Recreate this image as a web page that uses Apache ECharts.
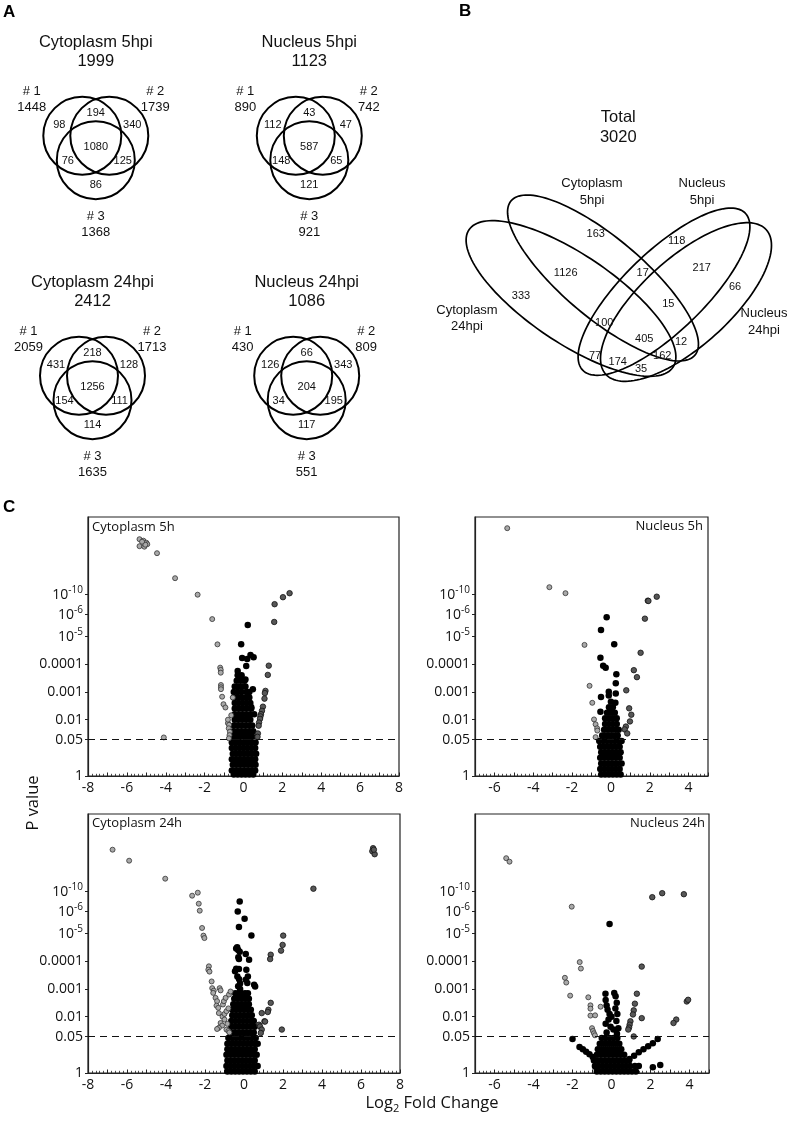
<!DOCTYPE html>
<html><head><meta charset="utf-8">
<script src="https://cdn.jsdelivr.net/npm/echarts@6/dist/echarts.min.js"></script>
<style>html,body{margin:0;padding:0;background:#fff}#c{width:791px;height:1126px}</style>
</head><body><div id="c"></div>
<script>
// ================= DATA =================
// Panel A: three-replicate Venn diagrams
const vennTitles = ['Cytoplasm 5hpi', 'Nucleus 5hpi', 'Cytoplasm 24hpi', 'Nucleus 24hpi'];
const vennTotals = [1999, 1123, 2412, 1086];
const vennSetNames = ['# 1', '# 2', '# 3'];
const vennSetSizes = [[1448, 1739, 1368], [890, 742, 921], [2059, 1713, 1635], [430, 809, 551]];
// regions: #1 only, #1&#2, #2 only, all, #1&#3, #2&#3, #3 only
const vennRegions = [
  [98, 194, 340, 1080, 76, 125, 86],
  [112, 43, 47, 587, 148, 65, 121],
  [431, 218, 128, 1256, 154, 111, 114],
  [126, 66, 343, 204, 34, 195, 117]
];

// Panel B: four-set Venn (A=Cytoplasm 24hpi, B=Cytoplasm 5hpi, C=Nucleus 5hpi, D=Nucleus 24hpi)
const quadTitle = 'Total';
const quadTotal = 3020;
const quadSetNames = [['Cytoplasm', '24hpi'], ['Cytoplasm', '5hpi'], ['Nucleus', '5hpi'], ['Nucleus', '24hpi']];
const quadRegionKeys = ['A', 'B', 'C', 'D', 'AB', 'BC', 'CD', 'ABC', 'BCD', 'ABCD', 'AC', 'BD', 'ACD', 'ABD', 'AD'];
const quadRegions = [333, 163, 118, 66, 1126, 17, 217, 100, 15, 405, 77, 12, 174, 162, 35];

// Panel C: volcano plots  [log2 fold change, -log10 P]
const volcanoTitles = ['Cytoplasm 5h', 'Nucleus 5h', 'Cytoplasm 24h', 'Nucleus 24h'];
const pTickLabels = ['1', '0.05', '0.01', '0.001', '0.0001', '10^-5', '10^-6', '10^-10'];
const pTickNegLog10 = [0, 1.301, 2, 3, 4, 5, 6, 10];

const cyto5Light = [[-5.35,21.1],[-5.15,20.8],[-5.0,20.4],[-5.35,19.7],[-5.1,19.6],[-4.95,20.1],[-5.05,20.0],[-5.22,20.6],[-4.45,18.3],[-3.52,13.3],[-2.36,10.0],[-1.61,5.8],[-1.34,4.72],[-1.2,3.87],[-1.17,3.79],[-1.17,3.69],[-1.16,3.25],[-1.16,3.17],[-1.16,3.1],[-1.1,2.83],[-1.03,2.56],[-0.93,2.44],[-0.63,2.16],[-0.55,2.8],[-0.8,1.88],[-0.74,1.82],[-0.76,1.7],[-0.7,1.58],[-0.72,1.46],[-0.8,2.0],[-0.75,1.35],[-4.1,1.38]];
const cyto5Dark = [[2.37,10.3],[2.03,9.5],[1.6,8.1],[1.58,5.67],[1.3,3.94],[1.25,3.61],[1.13,3.04],[1.1,2.96],[1.08,2.76],[1.0,2.47],[0.95,2.32],[0.9,2.2],[0.87,2.12],[0.85,2.03],[0.8,1.9],[0.78,1.79],[0.74,1.52],[0.72,1.4]];
const cyto5Black = [[0.22,5.53],[-0.12,4.72],[-0.07,4.22],[0.19,4.18],[0.36,4.33],[0.52,4.25],[0.14,3.93],[-0.12,3.57],[0.48,3.1],[0.4,2.45],[-0.3,3.75],[0.1,3.45]];
// rows: [-log10 P, fold changes...]
const cyto5CoreRows = [
  [0.05,-0.5,-0.3,-0.1,0.1,0.3,0.5],
  [0.2,-0.6,-0.4,-0.2,0.0,0.2,0.4,0.6],
  [0.4,-0.55,-0.35,-0.15,0.05,0.25,0.45,0.62],
  [0.6,-0.6,-0.4,-0.2,0.0,0.2,0.4,0.6],
  [0.8,-0.55,-0.35,-0.15,0.05,0.25,0.45,0.65],
  [1.0,-0.6,-0.4,-0.2,0.0,0.2,0.4,0.6],
  [1.2,-0.6,-0.4,-0.2,0.0,0.2,0.4,0.62],
  [1.4,-0.55,-0.35,-0.15,0.05,0.25,0.45],
  [1.6,-0.5,-0.3,-0.1,0.1,0.3,0.5],
  [1.8,-0.5,-0.3,-0.1,0.1,0.3,0.45],
  [2.0,-0.45,-0.25,-0.05,0.15,0.35],
  [2.2,-0.45,-0.25,-0.05,0.15,0.35,0.55],
  [2.4,-0.45,-0.25,-0.05,0.15,0.4],
  [2.6,-0.45,-0.25,-0.05,0.15,0.35],
  [2.8,-0.5,-0.3,-0.1,0.1,0.3],
  [3.0,-0.5,-0.3,-0.1,0.15,0.3],
  [3.2,-0.45,-0.25,-0.05,0.1],
  [3.4,-0.35,-0.15,0.05],
  [3.6,-0.3,-0.1]
];

const nuc5Light = [[-5.34,23.3],[-3.17,11.5],[-2.34,10.3],[-1.36,4.7],[-1.1,3.22],[-0.96,2.61],[-0.87,2.01],[-0.79,1.84],[-0.71,1.7],[-0.7,1.62],[-0.79,1.39]];
const nuc5Dark = [[2.36,9.6],[1.9,8.8],[1.93,8.75],[1.75,5.82],[1.53,4.41],[1.18,3.78],[1.34,3.53],[0.79,3.06],[0.94,2.41],[1.05,2.18],[0.98,1.94],[0.77,1.76],[0.71,1.66],[0.84,1.52]];
const nuc5Black = [[-0.22,5.88],[-0.51,5.3],[0.17,4.72],[-0.54,4.23],[-0.4,3.94],[-0.27,3.87],[0.28,3.63],[0.25,3.31],[-0.51,2.82],[-0.11,2.87],[0.25,2.95],[-0.11,3.01],[0.23,2.61],[-0.54,2.29]];
const nuc5CoreRows = [
  [0.05,-0.5,-0.3,-0.1,0.1,0.3,0.5],
  [0.25,-0.55,-0.35,-0.15,0.05,0.25,0.45],
  [0.45,-0.5,-0.3,-0.1,0.1,0.3,0.55],
  [0.65,-0.55,-0.35,-0.15,0.05,0.25,0.45],
  [0.85,-0.5,-0.3,-0.1,0.1,0.3,0.5],
  [1.05,-0.55,-0.35,-0.15,0.05,0.25,0.45],
  [1.25,-0.6,-0.4,-0.2,0.0,0.2,0.4,0.55],
  [1.45,-0.45,-0.25,-0.05,0.15,0.35],
  [1.65,-0.35,-0.15,0.05,0.25,0.4],
  [1.85,-0.3,-0.1,0.1,0.3],
  [2.05,-0.3,-0.1,0.1,0.3],
  [2.25,-0.2,0.0,0.2],
  [2.45,-0.1,0.1],
  [2.65,0.0]
];

const cyto24Light = [[-6.74,18.4],[-5.89,16.2],[-4.04,12.6],[-2.66,9.2],[-2.37,9.8],[-2.32,7.6],[-2.27,6.2],[-2.15,5.26],[-2.08,4.93],[-2.03,4.84],[-1.8,3.81],[-1.83,3.69],[-1.77,3.62],[-1.66,3.27],[-1.63,3.03],[-1.55,2.94],[-1.58,2.86],[-1.25,3.03],[-1.2,2.95],[-1.46,2.68],[-1.38,2.56],[-1.41,2.4],[-1.32,2.32],[-1.29,2.13],[-1.08,2.44],[-1.03,2.56],[-0.94,2.68],[-0.77,2.8],[-0.69,2.91],[-1.1,2.0],[-1.0,2.1],[-0.9,2.2],[-0.8,2.3],[-1.2,1.78],[-1.12,1.69],[-1.29,1.61],[-1.38,1.57],[-0.9,1.55],[-0.8,1.5],[-0.75,1.45],[-1.0,1.9],[-0.85,1.75]];
const cyto24Dark = [[6.62,18.7],[6.58,18.1],[6.7,17.5],[6.66,18.4],[3.56,10.6],[2.01,4.93],[1.98,4.59],[1.9,4.38],[1.37,4.23],[1.34,4.07],[1.37,2.5],[1.25,2.25],[1.22,2.17],[0.91,2.13],[1.05,1.84],[1.94,1.55],[0.77,1.72],[0.82,1.66],[0.91,1.55],[0.86,1.43],[1.08,1.83]];
const cyto24Black = [[-0.22,8.06],[-0.32,6.06],[0.03,5.68],[-0.26,5.31],[0.38,4.93],[-0.4,4.46],[-0.3,4.4],[-0.22,4.34],[-0.35,4.5],[0.09,4.26],[0.26,4.05],[-0.26,4.07],[-0.29,4.14],[-0.4,3.72],[-0.26,3.71],[-0.46,3.63],[0.12,3.69],[0.2,3.45],[0.09,3.33],[0.17,3.21],[0.52,3.15],[0.57,3.09],[-0.34,3.45],[-0.25,3.35],[-0.2,3.2],[-0.3,3.1],[-0.2,3.0]];
const cyto24CoreRows = [
  [0.05,-0.85,-0.65,-0.45,-0.25,-0.05,0.15,0.35,0.55],
  [0.25,-0.9,-0.7,-0.5,-0.3,-0.1,0.1,0.3,0.5,0.7],
  [0.45,-0.85,-0.65,-0.45,-0.25,-0.05,0.15,0.35,0.55],
  [0.65,-0.9,-0.7,-0.5,-0.3,-0.1,0.1,0.3,0.5,0.65],
  [0.85,-0.85,-0.65,-0.45,-0.25,-0.05,0.15,0.35,0.55],
  [1.05,-0.85,-0.65,-0.45,-0.25,-0.05,0.15,0.35,0.55,0.7],
  [1.25,-0.8,-0.6,-0.4,-0.2,0.0,0.2,0.4,0.6],
  [1.45,-0.7,-0.5,-0.3,-0.1,0.1,0.3,0.5],
  [1.65,-0.65,-0.45,-0.25,-0.05,0.15,0.35,0.55],
  [1.85,-0.65,-0.45,-0.25,-0.05,0.15,0.35,0.5],
  [2.05,-0.6,-0.4,-0.2,0.0,0.2,0.4],
  [2.25,-0.6,-0.4,-0.2,0.0,0.2,0.35],
  [2.45,-0.55,-0.35,-0.15,0.05,0.25],
  [2.65,-0.5,-0.3,-0.1,0.1,0.25],
  [2.85,-0.45,-0.3,-0.15,0.05,0.2]
];

const nuc24Light = [[-5.4,16.7],[-5.23,16.0],[-2.04,7.0],[-1.63,3.96],[-1.57,3.73],[-2.39,3.4],[-2.32,3.23],[-2.12,2.76],[-1.19,2.7],[-1.08,2.41],[-1.08,2.29],[-1.08,2.04],[-0.84,2.05],[-0.56,2.36],[-1.0,1.6],[-0.95,1.5],[-0.9,1.42],[-0.85,1.35]];
const nuc24Dark = [[2.09,8.9],[2.6,9.7],[3.71,9.5],[1.55,3.8],[1.3,2.83],[1.2,2.47],[1.14,2.23],[1.1,2.08],[1.55,1.95],[0.97,1.84],[0.93,1.72],[0.9,1.62],[0.86,1.55],[3.86,2.55],[3.93,2.61],[3.32,1.9],[3.18,1.78],[1.14,1.31]];
const nuc24Black = [[-0.1,5.44],[-0.31,2.83],[0.14,2.86],[0.21,2.74],[0.27,2.5],[-0.3,2.6],[-0.25,2.4],[-0.2,2.25],[-0.1,2.1],[0.0,2.0],[-0.15,1.9],[-0.3,1.75],[-0.05,1.65],[0.1,1.55],[-0.25,1.45],[0.2,2.3],[0.3,2.1],[0.25,1.85],[0.35,1.6],[0.28,1.4],[-2.0,1.22],[-1.64,0.93],[-1.47,0.85],[-1.3,0.76],[-1.13,0.67],[-0.96,0.57],[2.37,1.22],[2.12,1.07],[1.88,0.96],[1.64,0.85],[1.4,0.74],[1.16,0.62],[0.92,0.5],[2.12,0.21],[2.5,0.29],[-0.82,0.22]];
const nuc24CoreRows = [
  [0.05,-0.75,-0.55,-0.35,-0.15,0.05,0.25,0.45,0.65,0.85,1.05,1.25],
  [0.25,-0.85,-0.65,-0.45,-0.25,-0.05,0.15,0.35,0.55,0.75,0.95,1.2,1.4],
  [0.45,-0.9,-0.7,-0.5,-0.3,-0.1,0.1,0.3,0.5,0.7,0.9],
  [0.65,-0.75,-0.55,-0.35,-0.15,0.05,0.25,0.45,0.65],
  [0.85,-0.7,-0.5,-0.3,-0.1,0.1,0.3,0.5],
  [1.05,-0.6,-0.4,-0.2,0.0,0.2,0.4],
  [1.25,-0.5,-0.3,-0.1,0.1,0.3]
];

// ================= LAYOUT / STYLE =================
const FONT_A = '"Liberation Sans", Arial, sans-serif';
const FONT_C = '"Open Sans", sans-serif';
const VENN_ORIGIN = [[95.8, 96.7], [309.3, 96.7], [92.5, 336.7], [306.7, 336.7]];
const VENN_CIRCLES = [[-13.5, 39], [13.5, 39], [0, 63.5]];
const VENN_R = 39;
const VENN_REGION_POS = [[-36.5, 28.5], [0, 16], [36.5, 28.5], [0, 50.5], [-28, 64], [27, 64], [0, 88.5]];
const VENN_SET_POS = [[-64, -5], [59.5, -5], [0, 119.5]];
const VENN_TITLE_Y = -54.5, VENN_TOTAL_Y = -35.5;

const QUAD_ELLIPSES = [[571, 298.5, 123, 44, 34], [603, 278, 120, 40, 40], [664, 291.7, 113, 40, -44], [686, 302, 108, 44, -42]];
const QUAD_REGION_POS = [[521,296],[595.7,234],[676.7,241.3],[735,286.7],[565.7,273.3],[642.7,272.7],[701.7,268.3],[604.3,322.7],[668.3,304.3],[644.3,339],[595,356],[681,342.3],[617.7,362.3],[662.3,356],[641,369.3]];
const QUAD_SET_POS = [[467, 310], [592, 183.5], [702, 183.5], [764, 313.5]];
const QUAD_TITLE_POS = [618.3, 117];

const VOLCANO_GRIDS = [
  {left: 88, top: 517, width: 311, height: 259},
  {left: 475, top: 517, width: 233, height: 259},
  {left: 88, top: 814, width: 312, height: 259},
  {left: 475, top: 814, width: 234, height: 259}
];
const VOLCANO_X = [[-8, 8], [-7, 5], [-8, 8], [-7, 5]];
// warped P-value axis of the source figure: pixel height of each tick above the x axis
const P_TICK_POS = [0, 36.3, 56.3, 84, 112, 139.3, 161.3, 181.3];
const P_TOP_SLOPE = 5;
const Y_MAX = 259;

function toAxis(v) {
  for (let i = 1; i < pTickNegLog10.length; i++) {
    if (v <= pTickNegLog10[i]) {
      const t = (v - pTickNegLog10[i - 1]) / (pTickNegLog10[i] - pTickNegLog10[i - 1]);
      return P_TICK_POS[i - 1] + t * (P_TICK_POS[i] - P_TICK_POS[i - 1]);
    }
  }
  return P_TICK_POS[P_TICK_POS.length - 1] + (v - pTickNegLog10[pTickNegLog10.length - 1]) * P_TOP_SLOPE;
}
function expandRows(rows) {
  const out = [];
  rows.forEach(r => r.slice(1).forEach(fc => out.push([fc, r[0]])));
  return out;
}

const grids = [], xAxes = [], yAxes = [], series = [];

// ---------- Panel A ----------
vennTitles.forEach((title, k) => {
  const o = VENN_ORIGIN[k];
  const gi = grids.length;
  grids.push({left: o[0] - 80, top: o[1] - 62, width: 160, height: 210, outerBoundsMode: 'none'});
  xAxes.push({type: 'value', gridIndex: gi, min: -80, max: 80, show: false});
  yAxes.push({type: 'value', gridIndex: gi, min: -62, max: 148, inverse: true, show: false});
  series.push({
    type: 'custom', xAxisIndex: gi, yAxisIndex: gi, silent: true,
    data: VENN_CIRCLES.map(c => [c[0], c[1]]),
    renderItem: (p, api) => {
      const c = api.coord([api.value(0), api.value(1)]);
      const r = api.size([VENN_R, 0])[0];
      return {type: 'circle', shape: {cx: c[0], cy: c[1], r: r}, style: {fill: 'none', stroke: '#000', lineWidth: 2}};
    }
  });
  const items = [];
  items.push({x: 0, y: VENN_TITLE_Y, t: title, s: 16.5});
  items.push({x: 0, y: VENN_TOTAL_Y, t: String(vennTotals[k]), s: 16.5});
  vennSetNames.forEach((n, j) => {
    items.push({x: VENN_SET_POS[j][0], y: VENN_SET_POS[j][1], t: n, s: 13});
    items.push({x: VENN_SET_POS[j][0], y: VENN_SET_POS[j][1] + 16, t: String(vennSetSizes[k][j]), s: 13});
  });
  vennRegions[k].forEach((v, j) => items.push({x: VENN_REGION_POS[j][0], y: VENN_REGION_POS[j][1], t: String(v), s: 11}));
  series.push({
    type: 'custom', xAxisIndex: gi, yAxisIndex: gi, silent: true,
    data: items.map(it => [it.x, it.y]),
    renderItem: (p, api) => {
      const it = items[p.dataIndex];
      const c = api.coord([api.value(0), api.value(1)]);
      return {type: 'text', x: c[0], y: c[1], style: {text: it.t, fill: '#111', font: it.s + 'px ' + FONT_A, align: 'center', verticalAlign: 'middle'}};
    }
  });
});

// ---------- Panel B ----------
(function () {
  const gi = grids.length;
  grids.push({left: 400, top: 0, width: 391, height: 400, outerBoundsMode: 'none'});
  xAxes.push({type: 'value', gridIndex: gi, min: 400, max: 791, show: false});
  yAxes.push({type: 'value', gridIndex: gi, min: 0, max: 400, inverse: true, show: false});
  series.push({
    type: 'custom', xAxisIndex: gi, yAxisIndex: gi, silent: true,
    data: QUAD_ELLIPSES.map(e => [e[0], e[1]]),
    renderItem: (p, api) => {
      const e = QUAD_ELLIPSES[p.dataIndex];
      const th = e[4] * Math.PI / 180, pts = [];
      for (let i = 0; i < 144; i++) {
        const t = i / 144 * 2 * Math.PI;
        const x = e[0] + e[2] * Math.cos(t) * Math.cos(th) - e[3] * Math.sin(t) * Math.sin(th);
        const y = e[1] + e[2] * Math.cos(t) * Math.sin(th) + e[3] * Math.sin(t) * Math.cos(th);
        pts.push(api.coord([x, y]));
      }
      return {type: 'polygon', shape: {points: pts}, style: {fill: 'none', stroke: '#000', lineWidth: 1.7}};
    }
  });
  const items = [];
  items.push({x: QUAD_TITLE_POS[0], y: QUAD_TITLE_POS[1], t: quadTitle, s: 16.5});
  items.push({x: QUAD_TITLE_POS[0], y: QUAD_TITLE_POS[1] + 20, t: String(quadTotal), s: 16.5});
  quadSetNames.forEach((n, j) => {
    items.push({x: QUAD_SET_POS[j][0], y: QUAD_SET_POS[j][1], t: n[0], s: 13});
    items.push({x: QUAD_SET_POS[j][0], y: QUAD_SET_POS[j][1] + 16.5, t: n[1], s: 13});
  });
  quadRegions.forEach((v, j) => items.push({x: QUAD_REGION_POS[j][0], y: QUAD_REGION_POS[j][1], t: String(v), s: 11}));
  series.push({
    type: 'custom', xAxisIndex: gi, yAxisIndex: gi, silent: true,
    data: items.map(it => [it.x, it.y]),
    renderItem: (p, api) => {
      const it = items[p.dataIndex];
      const c = api.coord([api.value(0), api.value(1)]);
      return {type: 'text', x: c[0], y: c[1], style: {text: it.t, fill: '#111', font: it.s + 'px ' + FONT_A, align: 'center', verticalAlign: 'middle'}};
    }
  });
})();

// ---------- Panel C ----------
const volcanoSets = [
  {light: cyto5Light, dark: cyto5Dark, black: cyto5Black, core: cyto5CoreRows},
  {light: nuc5Light, dark: nuc5Dark, black: nuc5Black, core: nuc5CoreRows},
  {light: cyto24Light, dark: cyto24Dark, black: cyto24Black, core: cyto24CoreRows},
  {light: nuc24Light, dark: nuc24Dark, black: nuc24Black, core: nuc24CoreRows}
];
const toPts = arr => arr.map(d => [d[0], toAxis(d[1])]);
volcanoSets.forEach((vs, k) => {
  const gi = grids.length;
  const g = VOLCANO_GRIDS[k];
  grids.push(Object.assign({show: true, borderColor: '#222', borderWidth: 1.2, backgroundColor: 'transparent', outerBoundsMode: 'none'}, g));
  xAxes.push({
    type: 'value', gridIndex: gi, min: VOLCANO_X[k][0], max: VOLCANO_X[k][1], interval: 1,
    axisLine: {show: true, onZero: false, lineStyle: {color: '#222', width: 1.2}},
    axisTick: {show: true, inside: true, length: 3.5, lineStyle: {color: '#222', width: 1}},
    minorTick: {show: true, splitNumber: 5, length: 2.2, lineStyle: {color: '#222', width: 0.8}},
    splitLine: {show: false}, minorSplitLine: {show: false},
    axisLabel: {show: true, margin: 5, fontSize: 14, fontFamily: FONT_C, color: '#111',
      formatter: v => (Math.round(v) % 2 === 0 ? String(v) : '')}
  });
  yAxes.push({
    type: 'value', gridIndex: gi, min: 0, max: Y_MAX,
    axisLine: {show: true, onZero: false, lineStyle: {color: '#222', width: 1.2}},
    axisTick: {show: true, inside: false, length: 3, customValues: P_TICK_POS, lineStyle: {color: '#222', width: 1}},
    splitLine: {show: false},
    axisLabel: {show: true, margin: 5, fontSize: 14, fontFamily: FONT_C, color: '#111', lineHeight: 20,
      customValues: P_TICK_POS,
      formatter: v => {
        const i = P_TICK_POS.findIndex(p => Math.abs(p - v) < 0.5);
        if (i < 0) return '';
        const s = pTickLabels[i];
        const m = s.match(/^10\^(-?\d+)$/);
        return m ? '10{s|' + m[1] + '}' : s;
      },
      rich: {s: {fontSize: 10, lineHeight: 10, verticalAlign: 'top', fontFamily: FONT_C, color: '#111'}}
    }
  });
  series.push({
    type: 'scatter', xAxisIndex: gi, yAxisIndex: gi, silent: true, symbolSize: 6.5,
    itemStyle: {color: '#000', opacity: 1},
    data: toPts(expandRows(vs.core).concat(vs.black)),
    markLine: {silent: true, symbol: 'none', animation: false, label: {show: false},
      lineStyle: {type: [7, 5], color: '#111', width: 1.2},
      data: [{yAxis: toAxis(pTickNegLog10[1])}]}
  });
  series.push({
    type: 'scatter', xAxisIndex: gi, yAxisIndex: gi, silent: true, symbolSize: 5,
    itemStyle: {color: '#a9a9a9', borderColor: '#333', borderWidth: 0.8, opacity: 1},
    data: toPts(vs.light)
  });
  series.push({
    type: 'scatter', xAxisIndex: gi, yAxisIndex: gi, silent: true, symbolSize: 5.5,
    itemStyle: {color: '#575757', borderColor: '#111', borderWidth: 0.8, opacity: 1},
    data: toPts(vs.dark)
  });
});

function gText(x, y, text, size, family, extra) {
  return Object.assign({type: 'text', x: x, y: y,
    style: Object.assign({text: text, fontSize: size, fontFamily: family, fill: '#111', verticalAlign: 'middle'}, (extra && extra.style) || {})},
    (extra && extra.el) || {});
}
const graphic = [
  gText(3, 12.5, 'A', 17, FONT_A, {style: {fontWeight: 'bold', fill: '#000'}}),
  gText(459, 11, 'B', 17, FONT_A, {style: {fontWeight: 'bold', fill: '#000'}}),
  gText(3, 507.5, 'C', 17, FONT_A, {style: {fontWeight: 'bold', fill: '#000'}}),
  gText(92, 527, volcanoTitles[0], 13, FONT_C),
  gText(703, 526.5, volcanoTitles[1], 13, FONT_C, {style: {align: 'right'}}),
  gText(92, 823.5, volcanoTitles[2], 13, FONT_C),
  gText(705, 823.5, volcanoTitles[3], 13, FONT_C, {style: {align: 'right'}}),
  gText(33, 803, 'P value', 16.5, FONT_C, {style: {align: 'center'}, el: {rotation: Math.PI / 2}}),
  gText(432, 1103, 'Log{s|2} Fold Change', 16.5, FONT_C, {style: {align: 'center', lineHeight: 22,
    rich: {s: {fontSize: 11, lineHeight: 11, verticalAlign: 'bottom', fontFamily: FONT_C, fill: '#111'}}}})
];

const chart = echarts.init(document.getElementById('c'), null, {renderer: 'canvas', width: 791, height: 1126});
chart.setOption({
  animation: false,
  backgroundColor: '#fff',
  textStyle: {fontFamily: FONT_C},
  grid: grids, xAxis: xAxes, yAxis: yAxes, series: series, graphic: graphic
});
</script></body></html>
